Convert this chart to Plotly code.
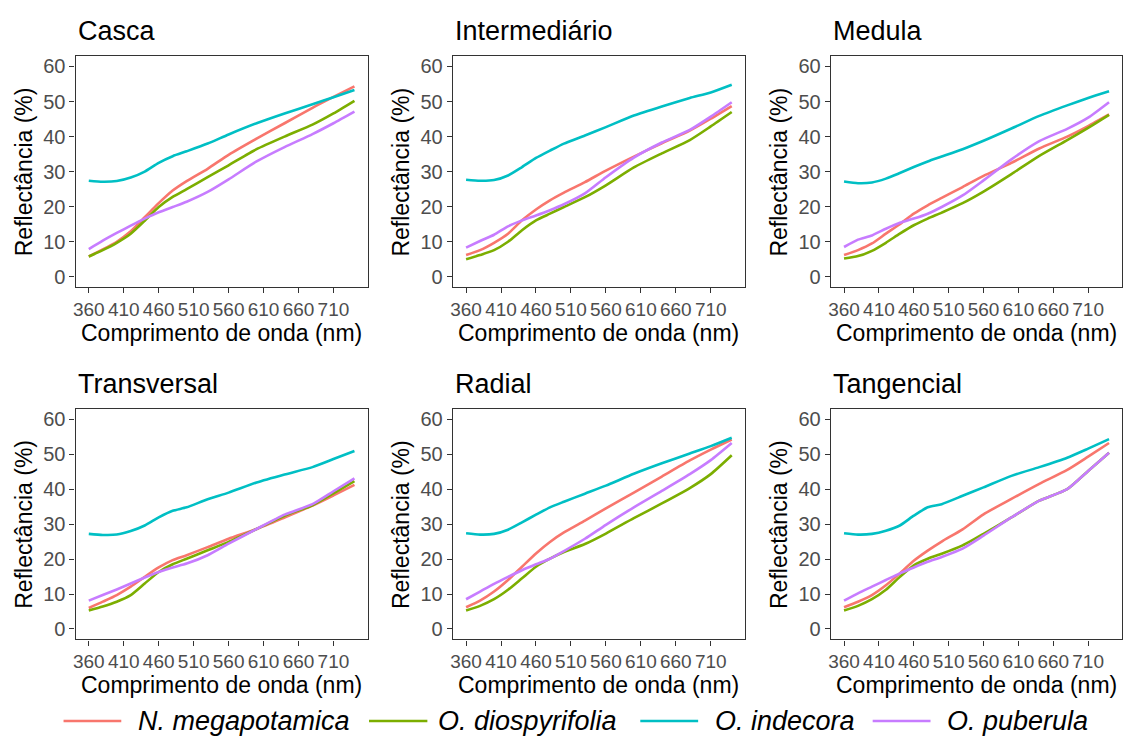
import plotly.graph_objects as go

# Wavelengths (nm) at which the spectra are sampled
wavelength = [360, 380, 400, 420, 440, 460, 480, 500, 530, 560, 600, 640, 680, 710, 740]

species = ["N. megapotamica", "O. diospyrifolia", "O. indecora", "O. puberula"]
colors = ["#F8766D", "#7CAE00", "#00BFC4", "#C77CFF"]
panels = ["Casca", "Intermediário", "Medula", "Transversal", "Radial", "Tangencial"]

x_ticks = [360, 410, 460, 510, 560, 610, 660, 710]
y_ticks = [0, 10, 20, 30, 40, 50, 60]

# Reflectance (%) per panel and species
casca_nmeg = [5.8, 7.8, 10.0, 13.0, 17.0, 21.0, 24.6, 27.3, 30.8, 34.8, 39.4, 43.8, 48.2, 51.3, 54.3]
casca_odio = [5.8, 7.6, 9.7, 12.3, 16.0, 19.9, 22.8, 25.0, 28.4, 31.8, 36.4, 40.0, 43.4, 46.6, 50.2]
casca_oind = [27.4, 27.1, 27.3, 28.3, 30.0, 32.5, 34.4, 35.8, 38.0, 40.6, 43.8, 46.6, 49.2, 51.2, 53.3]
casca_opub = [7.9, 10.3, 12.5, 14.6, 16.6, 18.4, 19.9, 21.4, 24.2, 27.8, 32.9, 37.0, 40.7, 43.8, 47.1]

inter_nmeg = [6.2, 7.6, 9.7, 12.3, 16.1, 19.2, 21.8, 24.0, 27.0, 30.3, 34.3, 38.1, 41.7, 45.1, 48.7]
inter_odio = [5.0, 6.2, 7.6, 10.0, 13.3, 16.1, 18.0, 19.9, 22.7, 26.1, 31.2, 35.2, 39.0, 42.9, 47.0]
inter_oind = [27.7, 27.4, 27.6, 28.9, 31.3, 33.9, 36.0, 38.0, 40.3, 42.7, 46.0, 48.6, 51.0, 52.6, 54.8]
inter_opub = [8.3, 10.2, 12.0, 14.4, 16.1, 17.5, 19.0, 20.7, 23.8, 28.4, 34.0, 38.3, 41.9, 45.7, 49.8]

medula_nmeg = [6.2, 7.6, 9.5, 12.3, 15.0, 18.0, 20.4, 22.5, 25.6, 28.8, 32.5, 36.6, 40.0, 43.0, 46.3]
medula_odio = [5.2, 5.9, 7.4, 9.7, 12.3, 14.7, 16.6, 18.3, 21.0, 24.3, 29.3, 34.5, 39.0, 42.5, 46.2]
medula_oind = [27.2, 26.7, 26.9, 28.0, 29.6, 31.3, 32.9, 34.3, 36.4, 38.8, 42.3, 45.9, 48.9, 51.0, 52.9]
medula_opub = [8.5, 10.6, 11.8, 13.7, 15.4, 16.6, 18.0, 19.9, 23.2, 27.5, 33.5, 38.7, 42.2, 45.4, 49.8]

transv_nmeg = [6.0, 7.8, 9.7, 12.1, 14.9, 17.6, 19.7, 21.1, 23.4, 25.8, 28.6, 31.9, 35.3, 38.2, 41.2]
transv_odio = [5.3, 6.4, 7.8, 9.7, 13.0, 16.3, 18.5, 20.1, 22.5, 24.9, 28.6, 32.4, 35.4, 38.8, 42.3]
transv_oind = [27.2, 26.9, 27.0, 28.0, 29.6, 31.9, 33.8, 34.8, 37.1, 39.0, 41.9, 44.2, 46.3, 48.6, 50.9]
transv_opub = [8.1, 9.7, 11.3, 13.0, 14.7, 16.3, 17.6, 18.7, 21.1, 24.4, 28.6, 32.7, 35.7, 39.4, 43.1]

radial_nmeg = [6.2, 8.1, 10.7, 14.0, 17.8, 21.6, 24.9, 27.6, 31.0, 34.5, 39.0, 43.6, 48.2, 51.3, 54.2]
radial_odio = [5.3, 6.6, 8.5, 11.2, 14.5, 17.8, 20.1, 22.0, 24.3, 27.3, 31.7, 35.9, 40.3, 44.3, 49.7]
radial_oind = [27.4, 27.0, 27.2, 28.4, 30.5, 32.7, 34.8, 36.4, 38.7, 41.0, 44.4, 47.4, 50.2, 52.3, 54.7]
radial_opub = [8.5, 10.7, 12.9, 14.9, 16.8, 18.5, 20.1, 22.3, 25.8, 29.8, 34.8, 39.5, 44.3, 48.3, 53.2]

tang_nmeg = [6.2, 7.8, 9.7, 12.5, 15.9, 19.5, 22.4, 25.0, 28.5, 32.8, 37.2, 41.5, 45.5, 49.3, 53.2]
tang_odio = [5.3, 6.6, 8.5, 11.2, 14.9, 18.2, 20.1, 21.5, 23.9, 27.2, 31.9, 36.7, 40.0, 45.2, 50.4]
tang_oind = [27.4, 27.0, 27.2, 28.1, 29.6, 32.4, 34.8, 35.7, 38.1, 40.5, 43.8, 46.3, 49.0, 51.6, 54.3]
tang_opub = [8.1, 10.2, 12.1, 14.0, 15.9, 17.6, 19.2, 20.6, 23.0, 26.7, 31.9, 36.7, 40.0, 45.2, 50.4]

panel_series = [
    [casca_nmeg, casca_odio, casca_oind, casca_opub],
    [inter_nmeg, inter_odio, inter_oind, inter_opub],
    [medula_nmeg, medula_odio, medula_oind, medula_opub],
    [transv_nmeg, transv_odio, transv_oind, transv_opub],
    [radial_nmeg, radial_odio, radial_oind, radial_opub],
    [tang_nmeg, tang_odio, tang_oind, tang_opub],
]

W, H = 1124, 743
FONT = "Liberation Sans, Arial, sans-serif"

# Panel placement in pixels: (left, right) per column, (top, bottom) per row
col_px = [(72.7, 365.7), (451.0, 744.0), (830.0, 1122.3)]
row_px = [(55.0, 286.7), (408.3, 639.3)]

fig = go.Figure()
annotations = []
shapes = []

for p, name in enumerate(panels):
    r, c = divmod(p, 3)
    ax = "" if p == 0 else str(p + 1)
    left, right = col_px[c]
    top, bottom = row_px[r]
    xdom = [left / W, right / W]
    ydom = [1 - bottom / H, 1 - top / H]

    for s, (sp, col) in enumerate(zip(species, colors)):
        fig.add_trace(go.Scatter(
            x=wavelength, y=panel_series[p][s], mode="lines", name=sp,
            line=dict(color=col, width=2.6, shape="spline", smoothing=0.6),
            xaxis="x" + ax, yaxis="y" + ax, showlegend=False,
        ))

    axis_common = dict(
        showline=True, mirror=True, linecolor="#333333", linewidth=1.2,
        ticks="outside", ticklen=5, tickwidth=1.2, tickcolor="#333333",
        showgrid=False, zeroline=False, tickangle=0,
        tickfont=dict(family=FONT, size=19, color="#4D4D4D"),
    )
    fig.update_layout(**{
        "xaxis" + ax: dict(axis_common, domain=xdom, range=[341, 759],
                           tickvals=x_ticks, anchor="y" + ax),
        "yaxis" + ax: dict(axis_common, domain=ydom, range=[-3, 63],
                           tickvals=y_ticks, anchor="x" + ax,
                           tickfont=dict(family=FONT, size=20, color="#4D4D4D")),
    })

    # panel title
    annotations.append(dict(
        text=name, x=left / W, y=1 - (top - 25) / H, xref="paper", yref="paper",
        xanchor="left", yanchor="middle", showarrow=False,
        font=dict(family=FONT, size=27, color="black"),
    ))
    # x-axis title
    annotations.append(dict(
        text="Comprimento de onda (nm)", x=(left + right) / 2 / W,
        y=1 - (bottom + 46) / H, xref="paper", yref="paper",
        xanchor="center", yanchor="middle", showarrow=False,
        font=dict(family=FONT, size=23, color="black"),
    ))
    # y-axis title
    annotations.append(dict(
        text="Reflectância (%)", x=(left - 52) / W, y=1 - (top + bottom) / 2 / H,
        xref="paper", yref="paper", xanchor="center", yanchor="middle",
        textangle=-90, showarrow=False,
        font=dict(family=FONT, size=23, color="black"),
    ))

# Legend along the bottom
legend_y = 1 - 721 / H
legend_items = [(60.7, 118.6, 133.0), (367.0, 425.5, 434.0), (639.0, 697.0, 712.0), (872.0, 930.0, 945.0)]
for (x0, x1, xt), sp, col in zip(legend_items, species, colors):
    shapes.append(dict(type="line", xref="paper", yref="paper",
                       x0=x0 / W, x1=x1 / W, y0=legend_y, y1=legend_y,
                       line=dict(color=col, width=2.6)))
    annotations.append(dict(
        text="<i>" + sp + "</i>", x=xt / W, y=legend_y, xref="paper", yref="paper",
        xanchor="left", yanchor="middle", showarrow=False,
        font=dict(family=FONT, size=27, color="black"),
    ))

fig.update_layout(
    width=W, height=H, margin=dict(l=0, r=0, t=0, b=0),
    paper_bgcolor="white", plot_bgcolor="white",
    annotations=annotations, shapes=shapes, showlegend=False,
)

fig.write_html("out.html")
